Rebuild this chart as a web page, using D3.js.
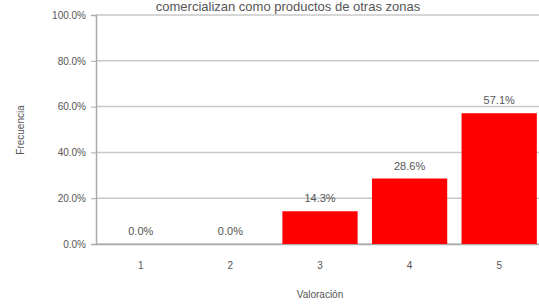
<!DOCTYPE html>
<html>
<head>
<meta charset="utf-8">
<script src="https://cdn.jsdelivr.net/npm/d3@7"></script>
<style>
  body { margin: 0; background: #fff; }
  svg text { font-family: "Liberation Sans", Arial, sans-serif; fill: #555; }
</style>
</head>
<body>
<figure id="bar" style="margin:0"></figure>
<script>
const categories = ["1", "2", "3", "4", "5"];
const values = [0.0, 0.0, 14.3, 28.6, 57.1];
const yTicks = [0, 20, 40, 60, 80, 100];
const title = "comercializan como productos de otras zonas";

const width = 539, height = 305;
const margin = { top: 15, right: -5, bottom: 61, left: 96 };
const innerW = width - margin.left - margin.right;
const innerH = height - margin.top - margin.bottom;

const svg = d3.select("figure#bar")
  .append("svg")
  .attr("width", width)
  .attr("height", height);

const g = svg.append("g")
  .attr("transform", "translate(" + margin.left + "," + margin.top + ")");

const x = d3.scaleBand()
  .range([0, innerW])
  .domain(categories)
  .paddingInner(0.16)
  .paddingOuter(0.08);

const y = d3.scaleLinear()
  .domain([0, 100])
  .range([innerH, 0]);

// gridlines
g.selectAll("line.grid")
  .data(yTicks)
  .enter()
  .append("line")
  .attr("x1", 0)
  .attr("x2", innerW)
  .attr("y1", d => y(d))
  .attr("y2", d => y(d))
  .attr("stroke", "#c8c8c8")
  .attr("stroke-width", 1.5);

// y axis
const yAxis = g.append("g")
  .call(d3.axisLeft(y).tickValues(yTicks).tickSize(5).tickFormat(d => d.toFixed(1) + "%"));
yAxis.select(".domain").attr("stroke", "#aaa").attr("stroke-width", 1.5);
yAxis.selectAll(".tick line").attr("stroke", "#aaa");
yAxis.selectAll("text").attr("font-size", 10).attr("x", -10).style("fill", "#555");

// x axis
const xAxis = g.append("g")
  .attr("transform", "translate(0," + innerH + ")")
  .call(d3.axisBottom(x).tickSize(0).tickPadding(18));
xAxis.select(".domain").attr("stroke", "#aaa").attr("stroke-width", 1.5);
xAxis.selectAll("text").attr("font-size", 10).style("fill", "#555");

// bars
g.selectAll("rect.bar")
  .data(values)
  .enter()
  .append("rect")
  .attr("class", "bar")
  .attr("x", (d, i) => x(categories[i]))
  .attr("y", d => y(d))
  .attr("width", x.bandwidth())
  .attr("height", d => innerH - y(d))
  .attr("fill", "#ff0000");

// value labels
g.selectAll("text.val")
  .data(values)
  .enter()
  .append("text")
  .attr("class", "val")
  .attr("x", (d, i) => x(categories[i]) + x.bandwidth() / 2)
  .attr("y", d => y(d) - 9)
  .attr("text-anchor", "middle")
  .attr("font-size", 11)
  .text(d => d.toFixed(1) + "%");

// title
svg.append("text")
  .attr("x", 288)
  .attr("y", 11)
  .attr("text-anchor", "middle")
  .attr("font-size", 13)
  .text(title);

// axis titles
svg.append("text")
  .attr("x", 320)
  .attr("y", 298)
  .attr("text-anchor", "middle")
  .attr("font-size", 10)
  .text("Valoración");

svg.append("text")
  .attr("transform", "translate(24,130)rotate(-90)")
  .attr("text-anchor", "middle")
  .attr("font-size", 10)
  .text("Frecuencia");
</script>
</body>
</html>
